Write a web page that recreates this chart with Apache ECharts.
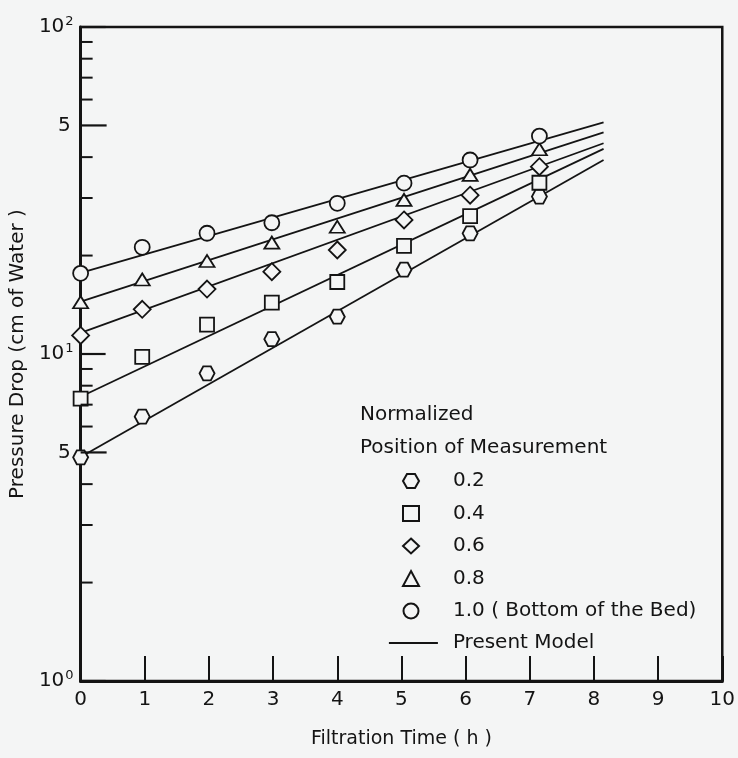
<!DOCTYPE html>
<html>
<head>
<meta charset="utf-8">
<script src="https://cdn.jsdelivr.net/npm/echarts@6/dist/echarts.min.js"></script>
<style>
html,body{margin:0;padding:0;background:#f4f5f5;}
#chart{width:738px;height:758px;}
</style>
</head>
<body>
<div id="chart"></div>
<script>
// ---- data ----
var times = [0, 0.96, 1.97, 2.98, 4.0, 5.04, 6.07, 7.15];
var p02 = [4.83, 6.43, 8.73, 11.1, 13.0, 18.1, 23.4, 30.3];
var p04 = [7.3, 9.8, 12.3, 14.35, 16.6, 21.4, 26.4, 33.4];
var p06 = [11.4, 13.7, 15.8, 17.85, 20.8, 25.7, 30.6, 37.4];
var p08 = [14.4, 16.9, 19.25, 21.9, 24.5, 29.6, 35.3, 42.3];
var p10 = [17.65, 21.2, 23.4, 25.2, 28.9, 33.3, 39.2, 46.4];
var seriesNames = ['0.2', '0.4', '0.6', '0.8', '1.0 ( Bottom of the Bed)'];
var modelStartTime = 0;
var modelEndTime = 8.15;
var modelStart = [4.84, 7.4, 11.6, 14.45, 17.7];
var modelEnd = [39.2, 42.4, 44.1, 47.6, 51.1];
var xTicks = [0, 1, 2, 3, 4, 5, 6, 7, 8, 9, 10];
var yMajorMid = [5, 50];
var yMinor = [2, 3, 4, 6, 7, 8, 9, 20, 30, 40, 60, 70, 80, 90];

var FONT = 'DejaVu Sans';
var INK = '#141414';
var BG = '#f4f5f5';
var hexPath = 'path://M-10,0 L-5,-8.66 L5,-8.66 L10,0 L5,8.66 L-5,8.66 Z';

var chart = echarts.init(document.getElementById('chart'), null, {renderer: 'canvas'});

function pairs(vals) {
  return times.map(function (t, i) { return [t, vals[i]]; });
}

var values = [p02, p04, p06, p08, p10];
var symbols = [hexPath, 'rect', 'diamond', 'triangle', 'circle'];
var sizes = [[15, 14], 14, 17, [15, 12], 15];

var series = [];
for (var k = 0; k < 5; k++) {
  series.push({
    name: 'Present Model',
    type: 'line',
    data: [[modelStartTime, modelStart[k]], [modelEndTime, modelEnd[k]]],
    symbol: 'none',
    itemStyle: {color: INK},
    lineStyle: {color: INK, width: 1.8},
    z: 2,
    silent: true
  });
}
for (var j = 0; j < 5; j++) {
  series.push({
    name: seriesNames[j],
    type: 'scatter',
    data: pairs(values[j]),
    symbol: symbols[j],
    symbolSize: sizes[j],
    itemStyle: {color: BG, borderColor: INK, borderWidth: 1.8, opacity: 1},
    z: 4,
    silent: true
  });
}
// minor y ticks
series.push({
  type: 'custom',
  silent: true,
  z: 6,
  data: yMinor.map(function (v) { return [0, v]; }),
  encode: {x: 0, y: 1},
  renderItem: function (params, api) {
    var p = api.coord([0, api.value(1)]);
    return {type: 'line', shape: {x1: p[0], y1: p[1], x2: p[0] + 12, y2: p[1]},
      style: {stroke: INK, lineWidth: 2}};
  }
});
// "5" ticks with labels
series.push({
  type: 'custom',
  silent: true,
  z: 6,
  data: yMajorMid.map(function (v) { return [0, v]; }),
  encode: {x: 0, y: 1},
  renderItem: function (params, api) {
    var v = api.value(1);
    var p = api.coord([0, v]);
    var mant = v / Math.pow(10, Math.floor(Math.log10(v)));
    return {type: 'group', children: [
      {type: 'line', shape: {x1: p[0], y1: p[1], x2: p[0] + 26, y2: p[1]},
        style: {stroke: INK, lineWidth: 2.2}},
      {type: 'text', style: {text: String(Math.round(mant)), x: p[0] - 10, y: p[1],
        align: 'right', verticalAlign: 'middle', font: '20px ' + FONT, fill: INK}}
    ]};
  }
});

var option = {
  backgroundColor: BG,
  animation: false,
  title: {
    text: 'Normalized\nPosition of Measurement',
    left: 360, top: 398, padding: 0,
    textStyle: {fontFamily: FONT, fontSize: 20, fontWeight: 'normal', color: INK, lineHeight: 33}
  },
  legend: [{
    data: seriesNames,
    orient: 'vertical',
    left: 402, top: 471, padding: 0,
    itemWidth: 16, itemHeight: 15, itemGap: 12.5,
    selectedMode: false,
    textStyle: {fontFamily: FONT, fontSize: 20, color: INK, padding: [0, 0, 0, 29]}
  }, {
    data: ['Present Model'],
    orient: 'vertical',
    left: 388, top: 633, padding: 0,
    itemWidth: 49, itemHeight: 15,
    selectedMode: false,
    itemStyle: {color: 'rgba(0,0,0,0)', borderColor: 'rgba(0,0,0,0)', borderWidth: 0, opacity: 0},
    lineStyle: {color: INK, width: 1.8, opacity: 1},
    textStyle: {fontFamily: FONT, fontSize: 20, color: INK, padding: [0, 0, 0, 10]}
  }],
  grid: {left: 77, right: 7, top: 27, bottom: 77, show: true, borderColor: INK, borderWidth: 2.5, backgroundColor: 'transparent'},
  xAxis: {
    type: 'value', min: xTicks[0], max: xTicks[xTicks.length - 1], interval: 1,
    name: 'Filtration Time ( h )', nameLocation: 'middle', nameGap: 49,
    nameTextStyle: {fontFamily: FONT, fontSize: 19, color: INK},
    axisLine: {show: true, lineStyle: {color: INK, width: 3}},
    axisTick: {show: true, inside: true, length: 25, lineStyle: {color: INK, width: 2}},
    axisLabel: {fontFamily: FONT, fontSize: 20, color: INK, margin: 9},
    splitLine: {show: false}
  },
  yAxis: {
    type: 'log', logBase: 10, min: 1, max: 100,
    name: 'Pressure Drop (cm of Water )', nameLocation: 'middle', nameGap: 49, nameRotate: 90,
    nameTextStyle: {fontFamily: FONT, fontSize: 20, color: INK},
    axisLine: {show: true, lineStyle: {color: INK, width: 3}},
    axisTick: {show: true, inside: true, length: 25, lineStyle: {color: INK, width: 2.2}},
    axisLabel: {
      margin: 7,
      formatter: function (v) { return '{b|10}{s|' + Math.round(Math.log10(v)) + '}'; },
      rich: {
        b: {fontFamily: FONT, fontSize: 20, color: INK},
        s: {fontFamily: FONT, fontSize: 13, color: INK, padding: [0, 0, 11, 1]}
      }
    },
    splitLine: {show: false},
    minorTick: {show: false}
  },
  series: series
};
chart.setOption(option);
</script>
</body>
</html>
